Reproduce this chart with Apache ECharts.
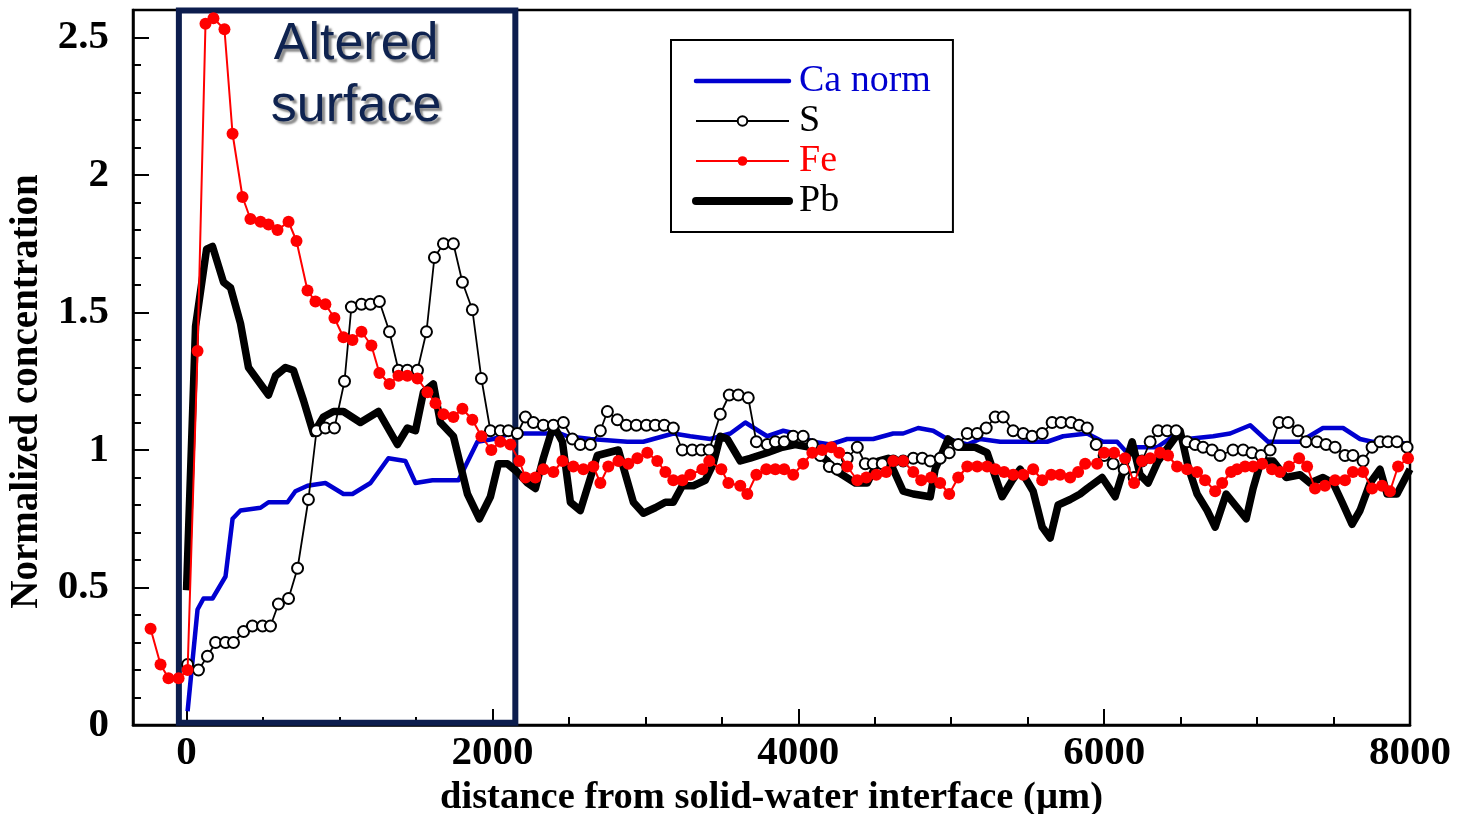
<!DOCTYPE html>
<html>
<head>
<meta charset="utf-8">
<script src="https://cdn.jsdelivr.net/npm/echarts@6/dist/echarts.min.js"></script>
<style>
html,body{margin:0;padding:0;background:#fff;}
#chart{width:1470px;height:814px;}
</style>
</head>
<body>
<div id="chart"></div>
<script>
// distance (µm), normalized concentration
const caNorm = [[7,0.05],[72,0.42],[111,0.46],[170,0.46],[255,0.54],[301,0.75],[353,0.78],[484,0.79],[536,0.81],[660,0.81],[712,0.85],[791,0.87],[908,0.88],[1026,0.84],[1085,0.84],[1203,0.88],[1320,0.97],[1431,0.96],[1497,0.88],[1608,0.89],[1778,0.89],[1902,1.03],[2007,1.04],[2118,1.06],[2444,1.06],[2490,1.05],[2641,1.04],[2882,1.03],[2987,1.03],[3183,1.06],[3294,1.05],[3425,1.04],[3556,1.06],[3654,1.10],[3739,1.07],[3797,1.05],[3902,1.07],[3980,1.06],[4098,1.03],[4209,1.02],[4320,1.04],[4490,1.04],[4621,1.06],[4686,1.06],[4784,1.08],[4882,1.07],[4974,1.04],[5105,1.02],[5190,1.04],[5320,1.03],[5628,1.03],[5732,1.05],[5889,1.06],[5993,1.03],[6085,1.03],[6150,0.99],[6216,1.01],[6346,1.01],[6451,1.05],[6543,1.04],[6713,1.05],[6824,1.06],[6955,1.09],[7072,1.03],[7281,1.03],[7431,1.08],[7562,1.08],[7673,1.04],[7752,1.03],[7915,1.03],[7987,1.02]];

const sulfur = [[7,0.22],[78,0.20],[137,0.25],[190,0.30],[255,0.30],[307,0.30],[373,0.34],[431,0.36],[497,0.36],[549,0.36],[601,0.44],[667,0.46],[726,0.57],[797,0.82],[850,1.07],[908,1.08],[967,1.08],[1033,1.25],[1078,1.52],[1144,1.53],[1203,1.53],[1261,1.54],[1327,1.43],[1386,1.29],[1444,1.29],[1510,1.29],[1569,1.43],[1621,1.70],[1680,1.75],[1745,1.75],[1804,1.61],[1869,1.51],[1928,1.26],[1987,1.07],[2052,1.07],[2105,1.07],[2163,1.06],[2216,1.12],[2268,1.10],[2333,1.09],[2399,1.09],[2464,1.10],[2523,1.04],[2575,1.02],[2641,1.02],[2706,1.07],[2752,1.14],[2817,1.11],[2876,1.09],[2941,1.09],[3007,1.09],[3065,1.09],[3124,1.09],[3183,1.08],[3242,1.00],[3307,1.00],[3366,1.00],[3418,1.00],[3490,1.13],[3549,1.20],[3608,1.20],[3673,1.19],[3726,1.03],[3797,1.02],[3850,1.03],[3908,1.03],[3967,1.05],[4032,1.05],[4092,1.02],[4144,0.98],[4203,0.94],[4255,0.93],[4320,0.97],[4386,1.01],[4438,0.95],[4490,0.95],[4549,0.95],[4621,0.96],[4686,0.96],[4752,0.97],[4811,0.97],[4863,0.96],[4928,0.97],[4987,0.99],[5046,1.02],[5105,1.06],[5170,1.06],[5229,1.08],[5288,1.12],[5340,1.12],[5405,1.07],[5471,1.06],[5529,1.05],[5595,1.06],[5660,1.10],[5719,1.10],[5784,1.10],[5837,1.09],[5889,1.08],[5948,1.02],[6000,0.98],[6059,0.95],[6131,0.93],[6196,0.90],[6248,0.96],[6301,1.03],[6353,1.07],[6412,1.07],[6471,1.07],[6543,1.03],[6595,1.02],[6647,1.01],[6706,1.00],[6758,0.98],[6843,1.00],[6909,1.00],[6967,0.99],[7026,0.98],[7085,1.00],[7144,1.10],[7203,1.10],[7268,1.07],[7320,1.03],[7392,1.03],[7451,1.02],[7510,1.01],[7575,0.98],[7627,0.98],[7693,0.96],[7752,1.01],[7804,1.03],[7856,1.03],[7915,1.03],[7981,1.01]];

const iron = [[-235,0.35],[-170,0.22],[-118,0.17],[-52,0.17],[7,0.20],[72,1.36],[124,2.55],[176,2.57],[248,2.53],[301,2.15],[366,1.92],[418,1.84],[484,1.83],[536,1.82],[595,1.80],[667,1.83],[719,1.76],[791,1.58],[843,1.54],[908,1.53],[967,1.48],[1026,1.41],[1085,1.40],[1144,1.43],[1209,1.38],[1261,1.28],[1327,1.24],[1386,1.27],[1444,1.27],[1510,1.26],[1575,1.21],[1628,1.17],[1680,1.13],[1745,1.12],[1804,1.15],[1869,1.11],[1928,1.05],[1993,1.00],[2052,1.03],[2118,1.02],[2176,0.96],[2216,0.90],[2281,0.90],[2333,0.93],[2399,0.92],[2458,0.96],[2529,0.94],[2595,0.93],[2660,0.94],[2706,0.88],[2758,0.94],[2824,0.96],[2889,0.95],[2948,0.97],[3013,0.99],[3078,0.96],[3131,0.92],[3183,0.89],[3242,0.89],[3294,0.91],[3373,0.93],[3418,0.96],[3497,0.93],[3543,0.88],[3621,0.87],[3667,0.84],[3726,0.91],[3791,0.93],[3850,0.93],[3908,0.93],[3967,0.91],[4032,0.95],[4092,0.99],[4157,1.00],[4216,1.01],[4268,0.99],[4320,0.94],[4386,0.89],[4445,0.90],[4510,0.91],[4575,0.92],[4621,0.96],[4686,0.96],[4752,0.92],[4804,0.89],[4869,0.90],[4928,0.88],[4987,0.84],[5046,0.90],[5105,0.94],[5170,0.94],[5235,0.94],[5288,0.93],[5346,0.92],[5405,0.91],[5471,0.91],[5536,0.93],[5595,0.89],[5654,0.91],[5712,0.91],[5778,0.90],[5830,0.92],[5876,0.95],[5954,0.95],[6000,0.99],[6065,0.99],[6137,0.97],[6196,0.88],[6248,0.96],[6301,0.97],[6366,0.99],[6418,0.98],[6477,0.94],[6543,0.93],[6608,0.92],[6660,0.89],[6726,0.85],[6772,0.88],[6830,0.92],[6869,0.93],[6922,0.94],[6974,0.94],[7033,0.95],[7098,0.93],[7150,0.92],[7209,0.94],[7275,0.97],[7327,0.94],[7379,0.86],[7444,0.87],[7510,0.89],[7575,0.89],[7627,0.92],[7693,0.92],[7752,0.86],[7817,0.87],[7869,0.85],[7922,0.94],[7987,0.97]];

const lead = [[0,0.49],[59,1.45],[131,1.73],[170,1.74],[242,1.61],[288,1.59],[353,1.46],[405,1.30],[536,1.20],[582,1.27],[647,1.30],[699,1.29],[765,1.18],[830,1.06],[895,1.12],[961,1.14],[1026,1.14],[1137,1.10],[1255,1.14],[1379,1.02],[1444,1.08],[1497,1.07],[1549,1.21],[1614,1.24],[1660,1.10],[1745,1.05],[1837,0.84],[1915,0.75],[1987,0.83],[2039,0.95],[2098,0.95],[2163,0.92],[2229,0.88],[2281,0.86],[2333,0.97],[2399,1.09],[2458,1.03],[2510,0.81],[2575,0.78],[2686,0.98],[2824,1.00],[2922,0.81],[2987,0.77],[3065,0.79],[3131,0.81],[3183,0.81],[3242,0.87],[3314,0.87],[3392,0.89],[3444,0.95],[3490,1.05],[3536,1.04],[3621,0.96],[3686,0.97],[3797,0.99],[3895,1.01],[3980,1.02],[4078,1.01],[4124,0.99],[4190,0.96],[4229,0.93],[4288,0.91],[4373,0.88],[4451,0.88],[4523,0.96],[4588,0.97],[4686,0.85],[4752,0.84],[4863,0.83],[4895,0.93],[4980,1.04],[5059,1.01],[5157,1.01],[5235,0.99],[5333,0.83],[5399,0.89],[5451,0.93],[5536,0.85],[5595,0.72],[5647,0.68],[5699,0.80],[5778,0.82],[5843,0.84],[5889,0.86],[5987,0.90],[6072,0.83],[6183,1.03],[6235,0.91],[6288,0.88],[6353,0.96],[6418,1.01],[6497,1.07],[6549,0.94],[6608,0.84],[6674,0.78],[6726,0.72],[6798,0.84],[6929,0.75],[6974,0.86],[7026,0.96],[7105,0.96],[7190,0.90],[7281,0.91],[7347,0.88],[7431,0.90],[7497,0.88],[7556,0.81],[7621,0.73],[7673,0.78],[7739,0.88],[7804,0.93],[7850,0.84],[7915,0.84],[8000,0.93]];

const xMajorTicks = [0, 2000, 4000, 6000, 8000];
const xMinorTicks = [500, 1000, 1500, 2500, 3000, 3500, 4500, 5000, 5500, 6500, 7000, 7500];
const yMajorTicks = [0, 0.5, 1, 1.5, 2, 2.5];
const yMinorTicks = [0.1,0.2,0.3,0.4,0.6,0.7,0.8,0.9,1.1,1.2,1.3,1.4,1.6,1.7,1.8,1.9,2.1,2.2,2.3,2.4];
const alteredZone = [-50, 2150];
const seriesNames = ['Ca norm', 'S', 'Fe', 'Pb'];
const xTitle = 'distance from solid-water interface (µm)';
const yTitle = 'Normalized concentration';
const zoneLabel = 'Altered\nsurface';

const SERIF = '"Liberation Serif", "Times New Roman", serif';
const chart = echarts.init(document.getElementById('chart'), null, {renderer: 'canvas'});

const tickLabelStyle = {fontFamily: SERIF, fontSize: 41, fontWeight: 'bold', color: '#000'};

chart.setOption({
  animation: false,
  backgroundColor: '#fff',
  grid: {left: 133, right: 60, top: 10, bottom: 89, outerBoundsMode: 'none', containLabel: false, show: true, borderColor: '#000', borderWidth: 2.5, backgroundColor: 'transparent'},
  legend: {
    orient: 'vertical', left: 671, top: 40,
    itemWidth: 93, itemHeight: 12, itemGap: 0,
    padding: [21, 22, 11, 21],
    borderColor: '#000', borderWidth: 2, backgroundColor: '#fff',
    textStyle: {fontFamily: SERIF, fontSize: 38, lineHeight: 40, color: '#000', padding: [0, 0, 0, 5]},
    data: [
      {name: seriesNames[0], textStyle: {color: '#0000d0'}, itemStyle: {opacity: 0}, lineStyle: {width: 4.5, cap: 'round'}},
      {name: seriesNames[1], textStyle: {color: '#000'}},
      {name: seriesNames[2], textStyle: {color: '#ff0000'}},
      {name: seriesNames[3], textStyle: {color: '#000'}, itemStyle: {opacity: 0}, lineStyle: {width: 8, cap: 'round'}}
    ]
  },
  xAxis: [
    {
      type: 'value', min: -350, max: 8000, position: 'bottom',
      name: xTitle, nameLocation: 'middle', nameGap: 50,
      nameTextStyle: {fontFamily: SERIF, fontSize: 38.5, fontWeight: 'bold', color: '#000'},
      axisLine: {onZero: false, lineStyle: {color: '#000', width: 2.5}},
      axisTick: {inside: true, length: 16, customValues: xMajorTicks, lineStyle: {color: '#000', width: 2}},
      axisLabel: Object.assign({customValues: xMajorTicks, margin: 8, formatter: function (v) { return String(v); }}, tickLabelStyle),
      splitLine: {show: false}
    },
    {
      type: 'value', min: -350, max: 8000, position: 'bottom',
      axisLine: {show: false, onZero: false},
      axisTick: {inside: true, length: 8, customValues: xMinorTicks, lineStyle: {color: '#000', width: 2}},
      axisLabel: {show: false},
      splitLine: {show: false}
    }
  ],
  yAxis: [
    {
      type: 'value', min: 0, max: 2.6, position: 'left',
      name: yTitle, nameLocation: 'middle', nameGap: 72,
      nameTextStyle: {fontFamily: SERIF, fontSize: 39, fontWeight: 'bold', color: '#000', padding: [0, 48, 0, 0]},
      axisLine: {onZero: false, lineStyle: {color: '#000', width: 2.5}},
      axisTick: {inside: true, length: 16, customValues: yMajorTicks, lineStyle: {color: '#000', width: 2}},
      axisLabel: Object.assign({customValues: yMajorTicks, margin: 24, formatter: function (v) { return String(v); }}, tickLabelStyle),
      splitLine: {show: false}
    },
    {
      type: 'value', min: 0, max: 2.6, position: 'left',
      axisLine: {show: false, onZero: false},
      axisTick: {inside: true, length: 8, customValues: yMinorTicks, lineStyle: {color: '#000', width: 2}},
      axisLabel: {show: false},
      splitLine: {show: false}
    }
  ],
  series: [
    {
      name: seriesNames[0], type: 'line', data: caNorm, showSymbol: false, symbol: 'none',
      color: '#0000d0',
      lineStyle: {color: '#0000d0', width: 4.5, join: 'round'},
      z: 2,
      markArea: {
        silent: true,
        itemStyle: {color: 'rgba(0,0,0,0)', borderColor: '#0c1d4e', borderWidth: 6},
        label: {
          show: true, position: 'insideTop', formatter: zoneLabel,
          fontFamily: '"Liberation Sans", Arial, sans-serif', fontSize: 52, lineHeight: 62,
          color: '#0f2350',
          textShadowColor: 'rgba(90,90,90,0.7)', textShadowOffsetX: 3, textShadowOffsetY: 3, textShadowBlur: 2,
          offset: [9, 1]
        },
        data: [[{coord: [alteredZone[0], 2.598]}, {coord: [alteredZone[1], 0.008]}]]
      }
    },
    {
      name: seriesNames[3], type: 'line', data: lead, showSymbol: false, symbol: 'none',
      color: '#000',
      lineStyle: {color: '#000', width: 7.5, join: 'round'},
      z: 3
    },
    {
      name: seriesNames[1], type: 'line', data: sulfur, symbol: 'circle', symbolSize: 11, showAllSymbol: true,
      itemStyle: {color: '#fff', borderColor: '#000', borderWidth: 2},
      lineStyle: {color: '#000', width: 1.8},
      z: 4
    },
    {
      name: seriesNames[2], type: 'line', data: iron, symbol: 'circle', symbolSize: 12, showAllSymbol: true,
      itemStyle: {color: '#ff0000', borderWidth: 0},
      lineStyle: {color: '#ff0000', width: 2},
      z: 5
    }
  ]
});
</script>
</body>
</html>
